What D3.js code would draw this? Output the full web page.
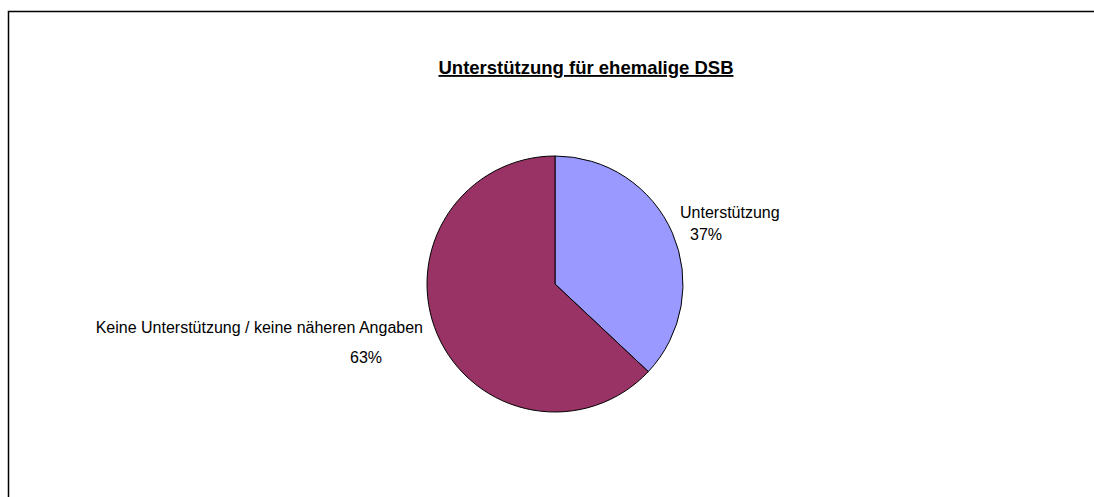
<!DOCTYPE html>
<html>
<head>
<meta charset="utf-8">
<script src="https://cdn.jsdelivr.net/npm/d3@7"></script>
<style>
  body { margin: 0; background: #fff; }
  svg text { font-family: "Liberation Sans", Arial, sans-serif; fill: #000; }
</style>
</head>
<body>
<svg id="chart"></svg>
<script>
// Chart size
const width = 1094;
const height = 497;

// Data
const categories = ["Unterstützung", "Keine Unterstützung / keine näheren Angaben"];
const values = [37, 63];
const colors = ["#9999ff", "#993366"];
const titleText = "Unterstützung für ehemalige DSB";

const svg = d3.select("#chart")
    .attr("width", width)
    .attr("height", height);

// Outer frame (runs off the right and bottom edges)
svg.append("rect")
    .attr("x", 8.5)
    .attr("y", 11.5)
    .attr("width", width)
    .attr("height", height)
    .attr("fill", "none")
    .attr("stroke", "#000")
    .attr("stroke-width", 1.5);

// Title
svg.append("text")
    .attr("x", 586)
    .attr("y", 74)
    .attr("text-anchor", "middle")
    .attr("font-size", 18.5)
    .attr("font-weight", "bold")
    .attr("text-decoration", "underline")
    .text(titleText);

// Pie
const cx = 555, cy = 284, r = 128;
const pie = d3.pie().sort(null).value(d => d.value);
const arc = d3.arc().innerRadius(0).outerRadius(r);
const data = categories.map((c, i) => ({ name: c, value: values[i], color: colors[i] }));
const arcs = pie(data);

const g = svg.append("g").attr("transform", `translate(${cx},${cy})`);
g.selectAll("path")
    .data(arcs)
    .enter().append("path")
    .attr("d", arc)
    .attr("fill", d => d.data.color)
    .attr("stroke", "#000")
    .attr("stroke-width", 1);

// Labels
const labelPos = [
    { x: 680, y: 218, px: 690, py: 240, anchor: "start", panchor: "start" },
    { x: 423, y: 333, px: 366, py: 363, anchor: "end", panchor: "middle" }
];
arcs.forEach((d, i) => {
    const p = labelPos[i];
    svg.append("text")
        .attr("x", p.x)
        .attr("y", p.y)
        .attr("text-anchor", p.anchor)
        .attr("font-size", 16)
        .text(d.data.name);
    svg.append("text")
        .attr("x", p.px)
        .attr("y", p.py)
        .attr("text-anchor", p.panchor)
        .attr("font-size", 16)
        .text(d3.format(".0f")(d.data.value) + "%");
});
</script>
</body>
</html>
